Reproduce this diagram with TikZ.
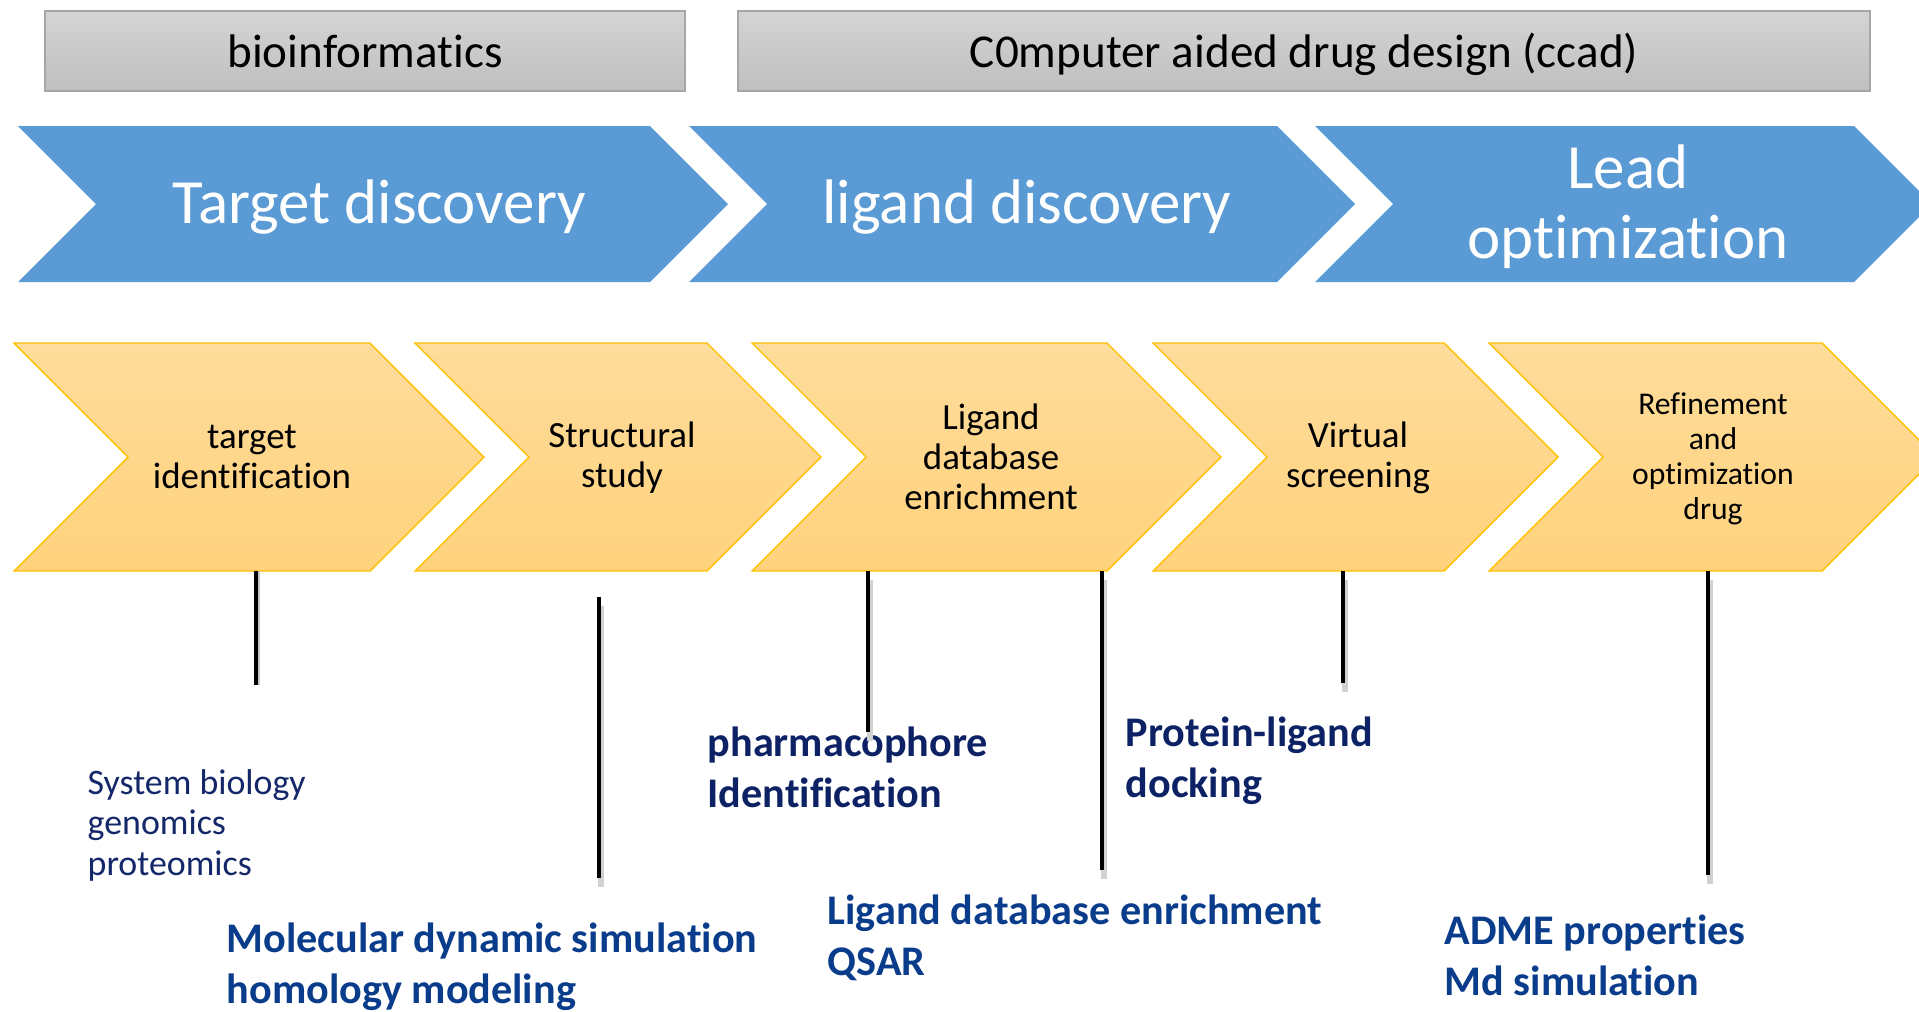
\documentclass[tikz,border=0pt]{standalone}
\usepackage{fontspec}
\setmainfont[Ligatures={NoCommon}]{Carlito}

\definecolor{stageblue}{RGB}{91,155,213}
\definecolor{steptop}{RGB}{254,220,155}
\definecolor{stepbot}{RGB}{255,210,125}
\definecolor{stepedge}{RGB}{255,192,0}
\definecolor{greytop}{RGB}{212,212,212}
\definecolor{greybot}{RGB}{191,191,191}
\definecolor{greyedge}{RGB}{166,166,166}
\definecolor{navytext}{RGB}{20,40,105}
\definecolor{darknavy}{RGB}{12,34,100}
\definecolor{deepblue}{RGB}{10,60,140}

% chevron: #1 style, #2 left x, #3 right-top x, #4 top y, #5 bottom y, #6 point depth
\newcommand\chevronpath[6]{%
  \path[#1] (#2,#4) -- (#3,#4) -- ({#3+#6},{(#4+#5)/2}) -- (#3,#5) -- (#2,#5)
    -- ({#2+#6},{(#4+#5)/2}) -- cycle;}

\tikzset{
  stage/.style={fill=stageblue},
  stepbox/.style={top color=steptop, bottom color=stepbot, draw=stepedge, line width=0.4pt},
  headbox/.style={top color=greytop, bottom color=greybot, draw=greyedge, line width=0.6pt,
    inner sep=0pt, text height=0.42cm, text depth=0.10cm, font=\fontsize{13.4}{16}\selectfont},
  stagetext/.style={text=white, align=center, inner sep=0pt, font=\fontsize{17.9}{19.9}\selectfont},
  steptext/.style={align=center, inner sep=0pt, font=\fontsize{10.5}{11.4}\selectfont},
  smallsteptext/.style={align=center, inner sep=0pt, font=\fontsize{9}{10}\selectfont},
  link/.style={line width=1.4pt, black},
  linkshadow/.style={line width=1.6pt, black!18},
  % anchored at the baseline of the last line
  plainnote/.style={anchor=base west, align=left, inner sep=0pt, text=navytext,
    font=\fontsize{10.2}{11.4}\selectfont},
  boldnote/.style={anchor=base west, align=left, inner sep=0pt,
    font=\fontsize{12}{14.5}\selectfont\bfseries},
}

\begin{document}
\begin{tikzpicture}[x=0.01cm, y=-0.01cm]
\useasboundingbox (0,0) rectangle (1919,1011);
\clip (0,0) rectangle (1919,1011);

% header bars
\node[headbox, minimum width=6.4cm, minimum height=0.8cm] (bio) at (365,51) {bioinformatics};
\node[headbox, minimum width=11.32cm, minimum height=0.8cm] (ccad) at (1304,51) {C0mputer aided drug design (ccad)};

% main stages
\chevronpath{stage}{18}{650}{126}{282}{78}
\chevronpath{stage}{689}{1277}{126}{282}{78}
\chevronpath{stage}{1315}{1854}{126}{282}{78}
\node[stagetext] (target) at (379,207) {Target discovery};
\node[stagetext] (ligand) at (1027,207) {ligand discovery};
\node[stagetext] (lead) at (1628,207) {Lead\\optimization};

% workflow steps
\chevronpath{stepbox}{14}{370}{343}{571}{114}
\chevronpath{stepbox}{415}{707}{343}{571}{114}
\chevronpath{stepbox}{752}{1107}{343}{571}{114}
\chevronpath{stepbox}{1153}{1444}{343}{571}{114}
\chevronpath{stepbox}{1489}{1822}{343}{571}{114}
\node[steptext] (tid) at (252,457) {target\\identification};
\node[steptext] (struct) at (622,458) {Structural\\study};
\node[steptext] (ldb) at (991,457) {Ligand\\database\\enrichment};
\node[steptext] (vs) at (1358,458) {Virtual\\screening};
\node[smallsteptext] (refine) at (1713,459) {Refinement\\and\\optimization\\drug};

% methods under each step
\node[plainnote] (sysbio) at (87,875) {System biology\\genomics\\proteomics};
\node[boldnote, text=deepblue] (md) at (226,1003) {Molecular dynamic simulation\\homology modeling};
\node[boldnote, text=darknavy] (pharm) at (707,807) {pharmacophore\\Identification};
\node[boldnote, text=deepblue] (qsar) at (827,975) {Ligand database enrichment\\QSAR};
\node[boldnote, text=darknavy] (dock) at (1125,797) {Protein-ligand\\docking};
\node[boldnote, text=deepblue] (adme) at (1444,995) {ADME properties\\Md simulation};

% connector end points
\coordinate (l1a) at (256,571); \coordinate (l1b) at (256,685);
\coordinate (l2a) at (599,597); \coordinate (l2b) at (599,878);
\coordinate (l3a) at (868,571); \coordinate (l3b) at (868,732);
\coordinate (l4a) at (1102,571); \coordinate (l4b) at (1102,870);
\coordinate (l5a) at (1343,571); \coordinate (l5b) at (1343,683);
\coordinate (l6a) at (1708,571); \coordinate (l6b) at (1708,875);

% soft shadows behind the connectors
\foreach \a/\b in {l2a/l2b, l3a/l3b, l4a/l4b, l5a/l5b, l6a/l6b}
  \draw[linkshadow] ([xshift=0.5pt,yshift=-2.5pt]\a) -- ([xshift=0.5pt,yshift=-2.5pt]\b);
\draw[black!22, line width=1.2pt] ([xshift=0.4pt]l1a) -- ([xshift=0.4pt]l1b);

% connectors
\draw[black, line width=1pt] (l1a) -- (l1b);
\foreach \a/\b in {l2a/l2b, l3a/l3b, l4a/l4b, l5a/l5b, l6a/l6b}
  \draw[link] (\a) -- (\b);
\end{tikzpicture}
\end{document}
